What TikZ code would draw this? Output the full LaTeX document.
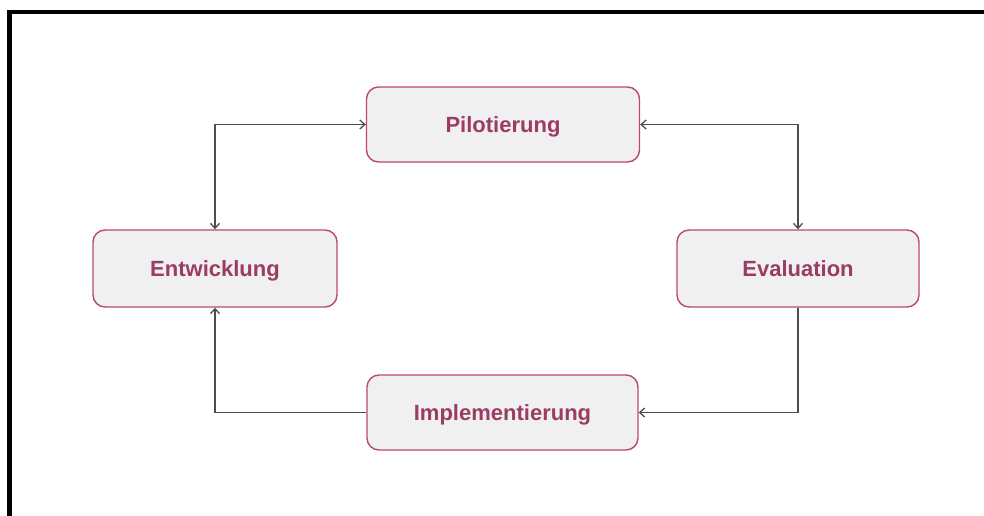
\documentclass[tikz,border=0pt]{standalone}
\usepackage{fontspec}
\setmainfont{Liberation Sans}
\usetikzlibrary{arrows.meta}
\definecolor{stagetext}{RGB}{154,60,100}
\definecolor{stageedge}{RGB}{186,72,114}
\definecolor{stagefill}{RGB}{241,240,241}
\definecolor{linkgray}{RGB}{78,78,78}
\tikzset{
  stage/.style={draw=stageedge, fill=stagefill, line width=1.4pt,
    rounded corners=12pt, text=stagetext,
    font=\fontsize{22}{26}\selectfont\bfseries,
    text depth=0pt,
    minimum height=75pt, inner sep=0pt},
  link/.style={draw=linkgray, line width=1.5pt,
    arrows={Straight Barb[length=5pt,width=9pt,line width=1.3pt]-Straight Barb[length=5pt,width=9pt,line width=1.3pt]}},
  onelink/.style={draw=linkgray, line width=1.5pt,
    arrows={-Straight Barb[length=5pt,width=9pt,line width=1.3pt]}},
  frameline/.style={draw=black, line width=4.2pt}
}
\begin{document}
\begin{tikzpicture}[x=1pt,y=-1pt]
  \useasboundingbox (0,0) rectangle (984,515);
  % open frame: left and top edges only
  \coordinate (fbl) at (9.5,520);
  \coordinate (ftl) at (9.5,11.7);
  \coordinate (ftr) at (990,11.7);
  \draw[frameline] (fbl) -- (ftl) -- (ftr);

  % the four stages of the cycle
  \node[stage, minimum width=273pt] (pil) at (503,124.5) {Pilotierung};
  \node[stage, minimum width=244pt, minimum height=77pt] (ent) at (215,268.5) {Entwicklung};
  \node[stage, minimum width=242pt, minimum height=77pt] (eva) at (798,268.5) {Evaluation};
  \node[stage, minimum width=271pt] (imp) at (502.5,412.5) {Implementierung};

  % connectors
  \draw[link] (ent.north) |- (pil.west);
  \draw[link] (pil.east) -| (eva.north);
  \draw[onelink] (eva.south) |- (imp.east);
  \draw[onelink] (imp.west) -| (ent.south);
\end{tikzpicture}
\end{document}
